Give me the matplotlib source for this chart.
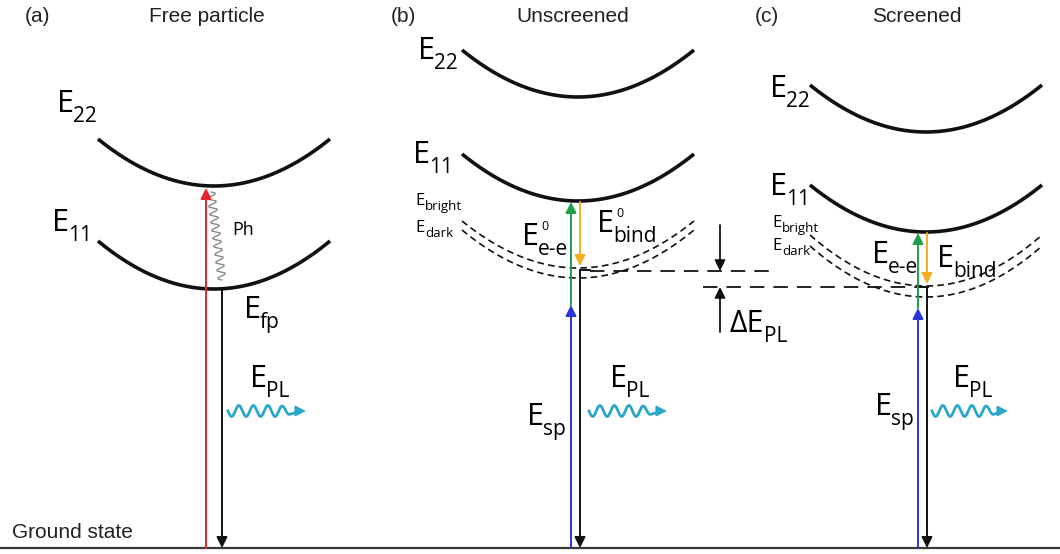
import numpy as np
import matplotlib.pyplot as plt

W, H = 1060, 554
GROUND = 548

LABEL_FONT = 'Open Sans'
TITLE_FONT = 'Liberation Sans'

red = '#e3262c'
blue = '#2a35d6'
green = '#1f9d4a'
orange = '#f4ae22'
black = '#111111'
cyan = '#2aa7c8'

# panel headers
tags = ['(a)', '(b)', '(c)']
tag_x = [37, 403, 767]
titles = ['Free particle', 'Unscreened', 'Screened']
title_x = [207, 573, 917]

# bands: centre x, (end y, bottom y)
band_cx = [214, 578, 926]
band_hw = 116
e22_y = [(139, 186), (50, 97), (85, 132)]
e11_y = [(241, 289), (154, 201), (185, 232)]
bright_y = [None, (221, 268), (235, 286)]
dark_y = [None, (230, 278), (246, 297)]

# vertical transitions: x, start y, end y, colour
transitions = [
    (206, GROUND, 188, red),
    (222, 290, GROUND, black),
    (571, GROUND, 305, blue),
    (571, 305, 202, green),
    (580, 202, 266, orange),
    (580, 270, GROUND, black),
    (918, GROUND, 308, blue),
    (918, 308, 233, green),
    (927, 233, 284, orange),
    (927, 287, GROUND, black),
]
# little ticks at the top of the emission lines
ticks = [(580, 590, 270), (920, 928, 287)]

# shift of the PL line between (b) and (c)
shift_lines = [(590, 770, 271), (703, 928, 287)]
shift_arrows = [(720, 225, 271), (720, 332, 287)]

# photon waves: x start, x end, y
photons = [(228, 306, 411), (589, 667, 411), (932, 1008, 411)]

# labels: x, baseline, subscript, superscript, small
labels = [
    (57, 112, '22', None, False),
    (52, 231, '11', None, False),
    (244, 318, 'fp', None, False),
    (250, 387, 'PL', None, False),
    (418, 59, '22', None, False),
    (413, 163, '11', None, False),
    (415, 205, 'bright', None, True),
    (415, 232, 'dark', None, True),
    (522, 245, 'e-e', '0', False),
    (597, 232, 'bind', '0', False),
    (527, 425, 'sp', None, False),
    (610, 387, 'PL', None, False),
    (770, 97, '22', None, False),
    (770, 195, '11', None, False),
    (772, 227, 'bright', None, True),
    (772, 250, 'dark', None, True),
    (872, 263, 'e-e', None, False),
    (937, 267, 'bind', None, False),
    (875, 415, 'sp', None, False),
    (953, 387, 'PL', None, False),
]


def parabola(ax, cx, y_end, y_bot, **kw):
    x = np.linspace(cx - band_hw, cx + band_hw, 200)
    y = y_bot + (y_end - y_bot) * ((x - cx) / band_hw) ** 2
    ax.plot(x, y, **kw)


def arrow(ax, x0, y0, x1, y1, color, lw=1.4):
    ax.annotate('', xy=(x1, y1), xytext=(x0, y0),
                arrowprops=dict(arrowstyle='-|>', color=color, lw=lw,
                                mutation_scale=16, shrinkA=0, shrinkB=0))


def elabel(ax, x, y, sub, sup=None, small=False):
    size, subsize = (12, 9.5) if small else (22, 15)
    dx, dy = (10, 5) if small else (16, 10)
    ax.text(x, y, 'E', fontsize=size, family=LABEL_FONT, va='baseline', ha='left')
    ax.text(x + dx, y + dy, sub, fontsize=subsize, family=LABEL_FONT,
            va='baseline', ha='left')
    if sup:
        ax.text(x + dx + 3, y - 15, sup, fontsize=9, family=LABEL_FONT,
                va='baseline', ha='left')


def photon(ax, x0, x1, y0):
    lam = 14.5
    x = np.linspace(x0, x0 + 4 * lam + 4, 300)
    taper = np.clip((x0 + 4 * lam + 4 - x) / 10, 0, 1) * 0.4 + 0.6
    y = y0 - 5.5 * np.sin(2 * np.pi * (x - x0) / lam + np.pi) * taper
    ax.plot(np.append(x, x1 - 5), np.append(y, y0), color=cyan, lw=2.0)
    arrow(ax, x1 - 7, y0, x1, y0, cyan, lw=1.2)


fig = plt.figure(figsize=(W / 100, H / 100), dpi=100)
ax = fig.add_axes([0, 0, 1, 1])
ax.set_xlim(0, W)
ax.set_ylim(H, 0)
ax.axis('off')

for t, tx, ttl, ttx in zip(tags, tag_x, titles, title_x):
    ax.text(tx, 22, t, fontsize=15, family=TITLE_FONT, ha='center', va='baseline', color='#222')
    ax.text(ttx, 22, ttl, fontsize=15, family=TITLE_FONT, ha='center', va='baseline', color='#222')

for i, cx in enumerate(band_cx):
    parabola(ax, cx, *e22_y[i], color=black, lw=2.6, solid_capstyle='butt')
    parabola(ax, cx, *e11_y[i], color=black, lw=2.6, solid_capstyle='butt')
    if bright_y[i]:
        parabola(ax, cx, *bright_y[i], color=black, lw=1.2, dashes=(4, 2.5))
        parabola(ax, cx, *dark_y[i], color=black, lw=1.2, dashes=(4, 2.5))

for x, y0, y1, c in transitions:
    arrow(ax, x, y0, x, y1, c)

for x0, x1, y in ticks:
    ax.plot([x0, x1], [y, y], color=black, lw=1.4)

for x0, x1, y in shift_lines:
    ax.plot([x0, x1], [y, y], color=black, lw=1.3, dashes=(8, 5))
for x, y0, y1 in shift_arrows:
    arrow(ax, x, y0, x, y1, black, lw=1.3)

# phonon (Ph) wiggle in panel (a)
t = np.linspace(0, 1, 400)
px0, py0, px1, py1 = 211, 192, 222, 280
L = np.hypot(px1 - px0, py1 - py0)
nx, ny = (py1 - py0) / L, -(px1 - px0) / L
amp = 4.0 * np.sin(2 * np.pi * 11 * t)
ax.plot(px0 + (px1 - px0) * t + nx * amp, py0 + (py1 - py0) * t + ny * amp,
        color='#8a8a8a', lw=1.0)
ax.text(232, 235, 'Ph', fontsize=13, family=LABEL_FONT, va='baseline')

for x0, x1, y in photons:
    photon(ax, x0, x1, y)

for x, y, sub, sup, small in labels:
    elabel(ax, x, y, sub, sup, small)

ax.text(730, 332, '\u0394E', fontsize=22, family=LABEL_FONT, va='baseline')
ax.text(764, 342, 'PL', fontsize=15, family=LABEL_FONT, va='baseline')

ax.plot([0, W], [GROUND, GROUND], color='#3a3a3a', lw=1.6)
ax.text(12, 538, 'Ground state', fontsize=15, family=TITLE_FONT, va='baseline', color='#222')

fig.savefig('out.png', dpi=100)
